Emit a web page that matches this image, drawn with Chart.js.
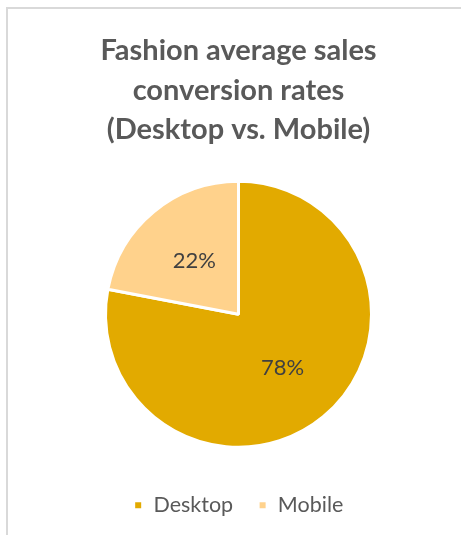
<!DOCTYPE html>
<html>
<head>
<meta charset="utf-8">
<script src="https://cdn.jsdelivr.net/npm/chart.js@4/dist/chart.umd.min.js"></script>
<style>
  html, body { margin: 0; padding: 0; background: #ffffff; }
  #frame {
    position: absolute; left: 6px; top: 7px; width: 470px; height: 540px;
    border-top: 2px solid #d9d9d9; border-left: 2px solid #d9d9d9;
  }
  #chart { position: absolute; left: 0; top: 0; }
</style>
</head>
<body>
<div id="frame"></div>
<canvas id="chart" width="461" height="535"></canvas>
<script>
const titleLines = ["Fashion average sales", "conversion rates", "(Desktop vs. Mobile)"];
const categories = ["Desktop", "Mobile"];
const shares = [78, 22];
const sliceColors = ["#E2AA00", "#FFD28C"];

const FONT = "Lato, Calibri, sans-serif";
const TEXT_GREY = "#595959";

// Percentage labels placed halfway along each slice's bisector
const sliceLabels = {
  id: "sliceLabels",
  afterDatasetsDraw(chart) {
    const ctx = chart.ctx;
    const meta = chart.getDatasetMeta(0);
    ctx.save();
    ctx.font = "22px " + FONT;
    ctx.fillStyle = "#404040";
    ctx.textAlign = "center";
    ctx.textBaseline = "middle";
    meta.data.forEach((arc, i) => {
      const p = arc.getProps(["x", "y", "startAngle", "endAngle", "outerRadius"], true);
      const mid = (p.startAngle + p.endAngle) / 2;
      const r = p.outerRadius * 0.52;
      ctx.fillText(shares[i] + "%", p.x + Math.cos(mid) * r, p.y + Math.sin(mid) * r);
    });
    ctx.restore();
  }
};

new Chart(document.getElementById("chart"), {
  type: "pie",
  data: {
    labels: categories,
    datasets: [{
      data: shares,
      backgroundColor: sliceColors,
      borderColor: "#ffffff",
      borderWidth: 3,
      hoverOffset: 0
    }]
  },
  options: {
    responsive: false,
    animation: false,
    radius: 133,
    layout: { padding: { left: 16, right: 0, top: 0, bottom: 9 } },
    plugins: {
      title: {
        display: true,
        text: titleLines,
        color: TEXT_GREY,
        font: { family: FONT, size: 29, weight: "bold", lineHeight: 1.362 },
        padding: { top: 31, bottom: 9.5 }
      },
      legend: {
        position: "bottom",
        labels: {
          color: TEXT_GREY,
          font: { family: FONT, size: 21.5 },
          boxWidth: 9,
          boxHeight: 9,
          padding: 25
        }
      },
      tooltip: { enabled: false }
    }
  },
  plugins: [sliceLabels]
});
</script>
</body>
</html>
